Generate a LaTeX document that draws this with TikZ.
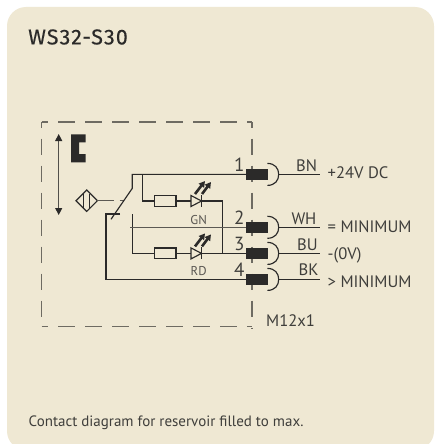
\documentclass[tikz,border=0pt]{standalone}
\usepackage{fontspec}
\setmainfont{PT Sans}
\newfontfamily\titlefont{Fira Sans}
\usetikzlibrary{arrows.meta}
\definecolor{panelc}{HTML}{EFE8D3}
\definecolor{inkc}{HTML}{2B2A29}
\definecolor{txtc}{HTML}{3F3E3B}
\definecolor{dashc}{HTML}{6E6B62}
\tikzset{
  x=1pt,y=-1pt,
  wire/.style={draw=inkc,line width=1.15pt},
  greywire/.style={draw=inkc!75!panelc,line width=1.15pt},
  boundary/.style={draw=dashc,line width=1.1pt,dash pattern=on 16.6pt off 10.4pt,dash phase=10.4pt},
  boundarydot/.style={draw=dashc!40!panelc,line width=1.1pt,dash pattern=on 2pt off 25pt,dash phase=4.3pt},
  pinblock/.style={draw=none,fill=inkc,minimum width=22.3pt,minimum height=11.6pt,inner sep=0pt,outer sep=0pt},
  resistorbox/.style={draw=inkc,fill=panelc,line width=1.15pt,minimum width=21.7pt,minimum height=10.7pt,inner sep=0pt,outer sep=0pt},
  lbl/.style={text=txtc,font=\fontsize{16.6}{17}\selectfont,inner sep=0pt,anchor=base west},
  numlbl/.style={text=txtc,font=\fontsize{19}{20}\selectfont,inner sep=0pt,anchor=base west},
  smalllbl/.style={text=txtc!85!panelc,font=\fontsize{12.8}{13}\selectfont,inner sep=0pt,anchor=base},
  plug/.style={draw=inkc,line width=1.15pt},
  ledray/.style={draw=inkc,line width=2.6pt,-{Triangle[length=6pt,width=6.5pt]}},
}
\newcommand{\plugat}[2]{%
  \node[pinblock] (pin#1) at (257.2,#2) {};
  \coordinate (out#1) at (320,#2);
  \coordinate (in#1) at (246,#2);
  \draw[plug] (267.3,#2-11) .. controls (275,#2-11) and (278.7,#2-6) .. (278.7,#2) .. controls (278.7,#2+6) and (275,#2+11) .. (267.3,#2+11);
  \draw[wire] (278.7,#2) -- (out#1);
}
\newcommand{\ledat}[2]{%
  \node[resistorbox] (res#1) at (165.2,#2) {};
  \coordinate (dio#1) at (191,#2);
  \coordinate (bar#1) at (201.5,#2);
  \draw[wire] (res#1.east) -- (dio#1);
  \draw[wire] (191,#2-5.5) -- (201.5,#2) -- (191,#2+5.5) -- cycle;
  \draw[wire] (201.5,#2-6) -- (201.5,#2+6);
  \draw[ledray] (195,#2-7) -- (205,#2-20);
  \draw[ledray] (202,#2-7) -- (211,#2-19);
}
\begin{document}
\begin{tikzpicture}
\useasboundingbox (0,0) rectangle (434,444);
\fill[white] (0,0) rectangle (434,444);
\begin{scope}
\clip (0,0) rectangle (434,444);
\fill[panelc,rounded corners=19pt] (7,7) rectangle (434,450);
\end{scope}

\node[text=inkc,font=\fontsize{21.5}{22}\titlefont\addfontfeature{FakeBold=0.3,LetterSpace=5},inner sep=0pt,anchor=base west] (title) at (28,44.4) {WS32-S30};
\node[text=txtc,font=\fontsize{15}{16}\selectfont,inner sep=0pt,anchor=base west] (caption) at (28.5,426) {Contact diagram for reservoir filled to max.};

% boundary
\foreach \st in {boundarydot,boundary}{
  \draw[\st] (41.7,122) -- (252,122);
  \draw[\st] (41.7,122) -- (41.7,326.7);
  \draw[\st] (41.7,326.7) -- (252,326.7);
  \draw[\st] (252,122) -- (252,328);
}

% level arrow
\coordinate (arrT) at (58.7,134);
\coordinate (arrB) at (58.7,215);
\draw[draw=inkc!80!panelc,line width=1.15pt,{Triangle[length=7pt,width=7pt,color=inkc]}-{Triangle[length=7pt,width=7pt,color=inkc]}] (arrT) -- (arrB);

% float block
\fill[inkc] (71,134.3) -- (85.7,134.3) -- (85.7,142.3) -- (79,142.3) -- (79,154) -- (85.7,154) -- (85.7,162.3) -- (71,162.3) -- cycle;

% sensor diamond
\coordinate (dia) at (86.7,200.7);
\draw[wire] (76,200.7) -- (86.7,190) -- (97.4,200.7) -- (86.7,211.4) -- cycle;
\draw[wire] (83.5,193.5) -- (83.5,208);
\draw[wire] (89.8,193.5) -- (89.8,208);
\draw[greywire] (97.4,200.7) -- (114,200.7);
\draw[greywire] (119.5,200.7) -- (124,200.7);

% plugs
\plugat{1}{174.4}
\plugat{2}{227.3}
\plugat{3}{253.4}
\plugat{4}{279.4}

% switch and wires
\coordinate (swA) at (111,219.3);
\coordinate (swB) at (132.3,188.3);
\coordinate (top) at (132.3,174.4);
\coordinate (br1) at (142.3,174.4);
\coordinate (br2) at (142.3,201);
\draw[wire] (swA) -- (swB) -- (top) -- (in1);
\draw[wire] (br1) -- (br2);
\ledat{A}{201}
\ledat{B}{253.4}
\draw[wire] (br2) -- (resA.west);
\draw[wire] (132.3,214) -- (132.3,253.4) -- (resB.west);
\draw[wire] (barA) -- (222.7,201) -- (222.7,253.4);
\draw[wire] (barB) -- (in3);
\draw[greywire] (130,227.3) -- (in2);
\draw[wire] (120,214) -- (106,214) -- (106,279.4) -- (in4);

% labels
\node[numlbl] (n1) at (234,171.5) {1};
\node[numlbl] (n2) at (234,224) {2};
\node[numlbl] (n3) at (234,250) {3};
\node[numlbl] (n4) at (234,276) {4};
\node[smalllbl] (gn) at (198.7,224) {GN};
\node[smalllbl] (rd) at (198.7,275.7) {RD};
\node[lbl] (bn) at (296,171) {BN};
\node[lbl] (wh) at (291.3,224) {WH};
\node[lbl] (bu) at (297,250) {BU};
\node[lbl] (bk) at (298.5,275.8) {BK};
\node[lbl] (t1) at (327.5,178.3) {+24V DC};
\node[lbl] (t2) at (327.5,232.3) {= MINIMUM};
\node[lbl] (t3) at (327.5,259) {-(0V)};
\node[lbl] (t4) at (327.5,287.7) {> MINIMUM};
\node[lbl] (m12) at (266,326.7) {M12x1};
\end{tikzpicture}
\end{document}
